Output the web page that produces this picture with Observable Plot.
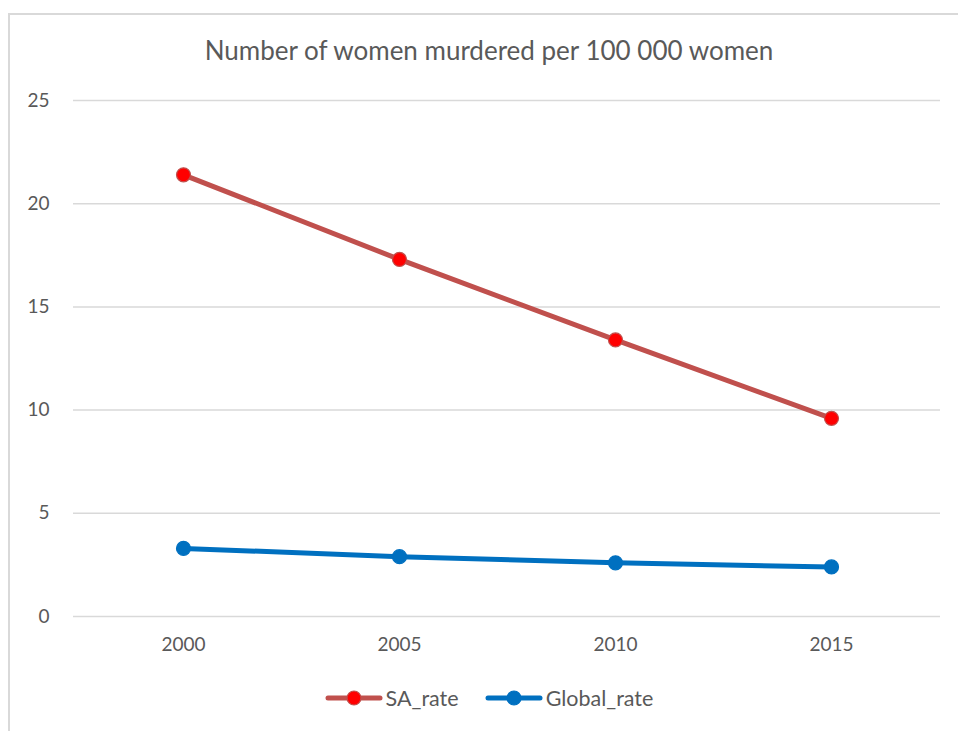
<!DOCTYPE html>
<html>
<head>
<meta charset="utf-8">
<script src="https://cdn.jsdelivr.net/npm/d3@7"></script>
<script src="https://cdn.jsdelivr.net/npm/@observablehq/plot@0.6"></script>
<style>
  html, body { margin: 0; padding: 0; background: #fff; overflow: hidden; }
  body { width: 958px; height: 731px; position: relative; font-family: Lato, "Open Sans", sans-serif; color: #595959; }
  #frame { position: absolute; left: 8px; top: 13px; width: 1000px; height: 800px; border-left: 2px solid #d9d9d9; border-top: 2px solid #d9d9d9; }
  #title { position: absolute; left: 0; width: 978px; top: 34px; text-align: center; font-size: 26px; color: #595959; }
  #chart { position: absolute; left: 0; top: 80px; }
  #legend { position: absolute; top: 685px; left: 0; width: 978px; display: flex; justify-content: center; gap: 26px; font-size: 21.5px; color: #595959; }
  .item { display: flex; align-items: center; gap: 3px; }
</style>
</head>
<body>
<div id="frame"></div>
<div id="title">Number of women murdered per 100 000 women</div>
<div id="chart"></div>
<div id="legend"></div>
<script>
const years = ["2000", "2005", "2010", "2015"];
const saRate = [21.4, 17.3, 13.4, 9.6];
const globalRate = [3.3, 2.9, 2.6, 2.4];
const yTicks = [0, 5, 10, 15, 20, 25];
const seriesNames = ["SA_rate", "Global_rate"];

const lineColors = {SA_rate: "#c0504d", Global_rate: "#0070c0"};
const dotFill = {SA_rate: "#ff0000", Global_rate: "#0070c0"};

const data = [];
years.forEach((y, i) => {
  data.push({year: y, value: saRate[i], series: "SA_rate"});
  data.push({year: y, value: globalRate[i], series: "Global_rate"});
});

const chart = Plot.plot({
  width: 958,
  height: 600,
  marginLeft: 73,
  marginRight: 18,
  marginTop: 20,
  marginBottom: 64,
  style: {fontFamily: "Lato, 'Open Sans', sans-serif", fontSize: "19px", color: "#595959", background: "transparent"},
  x: {type: "point", domain: years, padding: 0.5, label: null},
  y: {domain: [0, 25], label: null},
  marks: [
    Plot.ruleY(yTicks, {stroke: "#d9d9d9", strokeWidth: 1.5}),
    Plot.axisY(yTicks, {tickSize: 0, tickPadding: 24, label: null, fill: "#595959"}),
    Plot.axisX(years, {tickSize: 0, tickPadding: 21, label: null, fill: "#595959"}),
    ...seriesNames.map(s => Plot.line(data.filter(d => d.series === s), {
      x: "year", y: "value", stroke: lineColors[s], strokeWidth: 5, strokeLinecap: "round", strokeLinejoin: "round"
    })),
    ...seriesNames.map(s => Plot.dot(data.filter(d => d.series === s), {
      x: "year", y: "value", r: 7, fill: dotFill[s], stroke: lineColors[s], strokeWidth: 1.2
    }))
  ]
});
document.getElementById("chart").appendChild(chart);

const legend = document.getElementById("legend");
seriesNames.forEach(s => {
  const item = document.createElement("div");
  item.className = "item";
  item.innerHTML = `<svg width="58" height="20"><line x1="3" y1="10" x2="55" y2="10" stroke="${lineColors[s]}" stroke-width="5" stroke-linecap="round"/><circle cx="29" cy="10" r="7" fill="${dotFill[s]}" stroke="${lineColors[s]}" stroke-width="1.2"/></svg><span>${s}</span>`;
  legend.appendChild(item);
});
</script>
</body>
</html>
